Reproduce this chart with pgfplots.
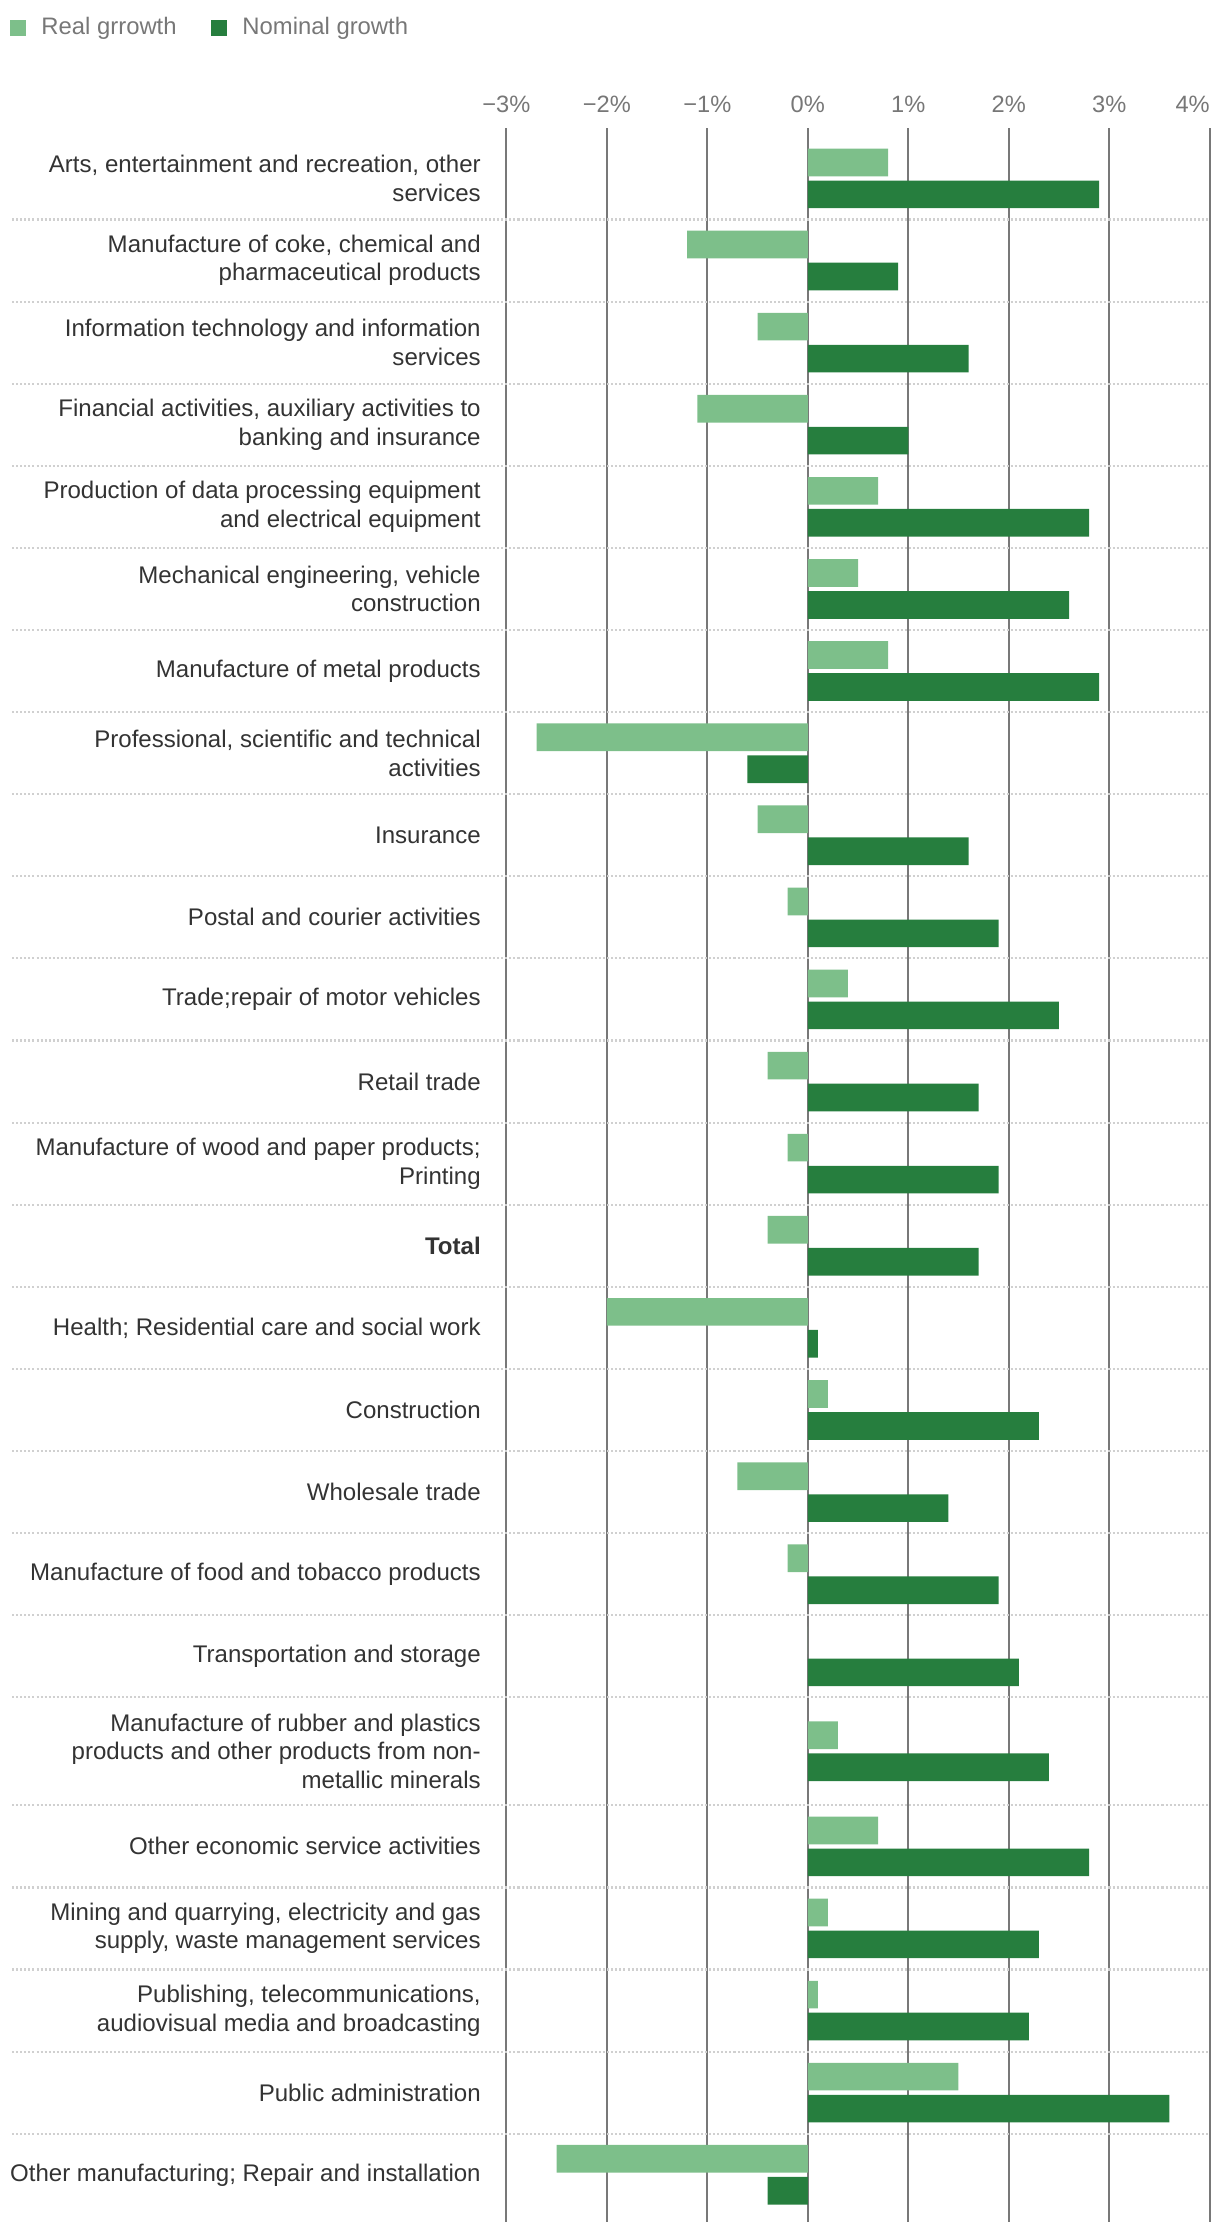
\documentclass[border=0pt]{standalone}
\usepackage{pgfplots}
\pgfplotsset{compat=1.18}
\usepackage{fontspec}
\setmainfont{Liberation Sans}
\definecolor{realc}{HTML}{7DBF8A}
\definecolor{nomc}{HTML}{267E3E}
\definecolor{labc}{HTML}{333333}
\definecolor{tickc}{HTML}{777777}
\definecolor{gridc}{HTML}{787878}
\definecolor{sepc}{HTML}{D0D0D0}
\begin{document}
\begin{tikzpicture}
\begin{axis}[
  x=49.3pt, y=0.7pt,
  xmin=-3, xmax=4, ymin=-1557.4, ymax=-90,
  clip=false,
  axis line style={draw=none},
  major tick length=0pt,
  xbar, bar width=19.4,
  xtick={-3,-2,-1,0,1,2,3,4},
  xticklabels={−3\%,−2\%,−1\%,0\%,1\%,2\%,3\%,\makebox[0pt][r]{4\%}},
  xticklabel pos=upper,
  xticklabel style={anchor=base, yshift=8pt, text=tickc, font=\fontsize{11.6}{14}\selectfont},
  xmajorgrids, grid style={gridc, line width=1pt},
  ytick={-125.1,-182.6,-240.2,-297.7,-355.3,-412.9,-470.4,-528.0,-585.5,-643.1,-700.6,-758.2,-815.7,-873.3,-930.8,-988.4,-1046.0,-1103.5,-1161.1,-1227.6,-1294.3,-1351.8,-1409.4,-1466.9,-1524.5},
  yticklabels={
    {Arts, entertainment and recreation, other\\services},
    {Manufacture of coke, chemical and\\pharmaceutical products},
    {Information technology and information\\services},
    {Financial activities, auxiliary activities to\\banking and insurance},
    {Production of data processing equipment\\and electrical equipment},
    {Mechanical engineering, vehicle\\construction},
    {Manufacture of metal products},
    {Professional, scientific and technical\\activities},
    {Insurance},
    {Postal and courier activities},
    {Trade;repair of motor vehicles},
    {Retail trade},
    {Manufacture of wood and paper products;\\Printing},
    {\textbf{Total}},
    {Health; Residential care and social work},
    {Construction},
    {Wholesale trade},
    {Manufacture of food and tobacco products},
    {Transportation and storage},
    {Manufacture of rubber and plastics\\products and other products from non-\\metallic minerals},
    {Other economic service activities},
    {Mining and quarrying, electricity and gas\\supply, waste management services},
    {Publishing, telecommunications,\\audiovisual media and broadcasting},
    {Public administration},
    {Other manufacturing; Repair and installation}},
  yticklabel style={anchor=east, align=right, inner sep=0pt, xshift=-12.4pt, text=labc, font=\fontsize{11.8}{14}\selectfont},
  legend columns=2,
  legend style={draw=none, fill=none, inner sep=0pt, at={(axis description cs:-0.7059,1.0481)}, anchor=west,
    font=\fontsize{11.7}{14}\selectfont, text=tickc,
    /tikz/every odd column/.append style={column sep=5.5pt},
    /tikz/every even column/.append style={column sep=15pt}},
  legend image code/.code={\fill[#1] (0pt,-3.9pt) rectangle (7.8pt,3.9pt);},
]
\addplot[fill=realc, draw=none, bar shift=11.2] coordinates {
(0.8,-125.1) (-1.2,-182.6) (-0.5,-240.2) (-1.1,-297.7) (0.7,-355.3)
(0.5,-412.9) (0.8,-470.4) (-2.7,-528.0) (-0.5,-585.5) (-0.2,-643.1)
(0.4,-700.6) (-0.4,-758.2) (-0.2,-815.7) (-0.4,-873.3) (-2.0,-930.8)
(0.2,-988.4) (-0.7,-1046.0) (-0.2,-1103.5) (0,-1161.1) (0.3,-1227.6)
(0.7,-1294.3) (0.2,-1351.8) (0.1,-1409.4) (1.5,-1466.9) (-2.5,-1524.5)
};
\addlegendentry{Real grrowth}
\addplot[fill=nomc, draw=none, bar shift=-11.2] coordinates {
(2.9,-125.1) (0.9,-182.6) (1.6,-240.2) (1.0,-297.7) (2.8,-355.3)
(2.6,-412.9) (2.9,-470.4) (-0.6,-528.0) (1.6,-585.5) (1.9,-643.1)
(2.5,-700.6) (1.7,-758.2) (1.9,-815.7) (1.7,-873.3) (0.1,-930.8)
(2.3,-988.4) (1.4,-1046.0) (1.9,-1103.5) (2.1,-1161.1) (2.4,-1227.6)
(2.8,-1294.3) (2.3,-1351.8) (2.2,-1409.4) (3.6,-1466.9) (-0.4,-1524.5)
};
\addlegendentry{Nominal growth}
% dotted row separators
\pgfplotsinvokeforeach{153.9,211.4,269.0,326.5,384.1,441.6,499.2,556.7,614.3,671.8,729.4,787.0,844.5,902.1,959.6,1017.2,1074.7,1132.3,1189.8,1265.5,1323.1,1380.6,1438.2,1495.7}{
  \draw[sepc, line width=1pt, dash pattern=on 1pt off 1pt] (axis cs:-7.92,-#1) -- (axis cs:4,-#1);
}
% page extent
\path (axis cs:-8.04,0) rectangle (axis cs:4.10,-1566);
\end{axis}
\end{tikzpicture}
\end{document}
